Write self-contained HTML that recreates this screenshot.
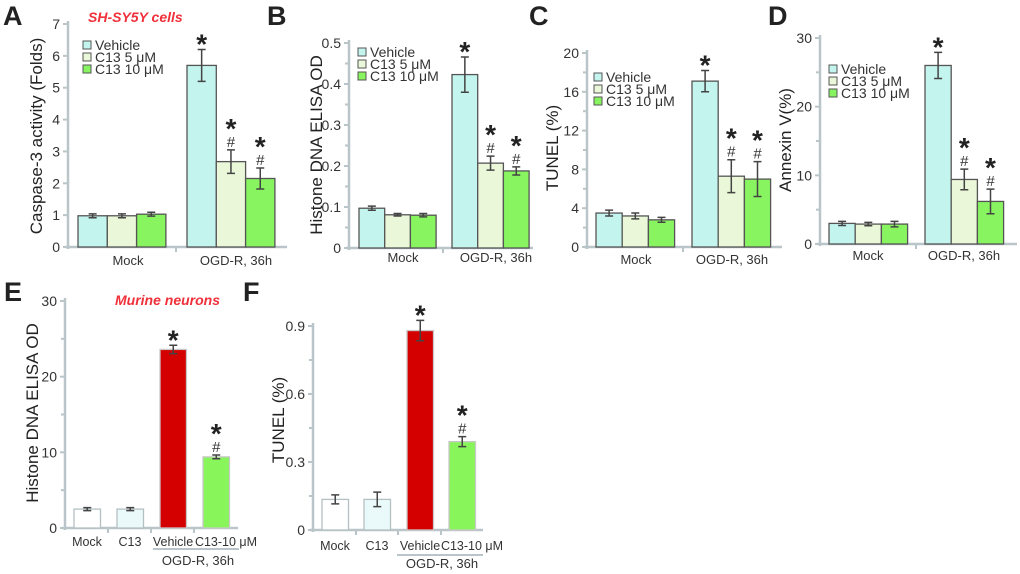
<!DOCTYPE html>
<html><head><meta charset="utf-8"><style>
html,body{margin:0;padding:0;background:#fff;}
svg{display:block;font-family:"Liberation Sans",Arial,sans-serif;}
</style></head><body>
<svg id="fig" width="1020" height="574" viewBox="0 0 1020 574" xmlns="http://www.w3.org/2000/svg"></svg>
<script>
// Panel A data
const aCategories = ["Mock", "OGD-R, 36h"];
const aVehicle = [0.98, 5.7];
const aC13_5 = [0.98, 2.68];
const aC13_10 = [1.03, 2.15];
const aErrVehicle = [0.06, 0.5];
const aErrC13_5 = [0.06, 0.37];
const aErrC13_10 = [0.06, 0.33];
const aTicks = ["0","1","2","3","4","5","6","7"];
// Panel B data
const bVehicle = [0.097, 0.423];
const bC13_5 = [0.081, 0.207];
const bC13_10 = [0.08, 0.188];
const bErrVehicle = [0.005, 0.043];
const bErrC13_5 = [0.003, 0.017];
const bErrC13_10 = [0.004, 0.01];
const bTicks = ["0","0.1","0.2","0.3","0.4","0.5"];
// Panel C data
const cVehicle = [3.5, 17.1];
const cC13_5 = [3.2, 7.3];
const cC13_10 = [2.8, 7.0];
const cErrVehicle = [0.3, 1.1];
const cErrC13_5 = [0.3, 1.7];
const cErrC13_10 = [0.25, 1.8];
const cTicks = ["0","4","8","12","16","20"];
// Panel D data
const dVehicle = [3.0, 26];
const dC13_5 = [2.9, 9.4];
const dC13_10 = [2.9, 6.2];
const dErrVehicle = [0.3, 1.9];
const dErrC13_5 = [0.25, 1.5];
const dErrC13_10 = [0.4, 1.8];
const dTicks = ["0","10","20","30"];
// Panel E data
const eCategories = ["Mock", "C13", "Vehicle", "C13-10 μM"];
const eValues = [2.5, 2.5, 23.6, 9.4];
const eErrors = [0.2, 0.2, 0.55, 0.25];
const eTicks = ["0","10","20","30"];
// Panel F data
const fValues = [0.135, 0.135, 0.88, 0.39];
const fErrors = [0.02, 0.032, 0.045, 0.022];
const fTicks = ["0","0.3","0.6","0.9"];

const svg = document.getElementById('fig');
const NS = "http://www.w3.org/2000/svg";
function mk(tag, attrs, parent) {
  const e = document.createElementNS(NS, tag);
  for (const k in attrs) e.setAttribute(k, attrs[k]);
  (parent || svg).appendChild(e);
  return e;
}
function txt(s, attrs, parent) { const t = mk('text', attrs, parent); t.textContent = s; return t; }

const AX = "#b9c5c9";
const BORDER = "#555";
const COLS = ["#c3f5ee", "#eaf7d8", "#88f560"];
const LEG = ["Vehicle", "C13 5 μM", "C13 10 μM"];

function panel(p) {
  const g = mk('g', {});
  
  
  const ymax = parseFloat(p.ticks[p.ticks.length - 1]);
  const yS = v => p.y0 - (v / ymax) * (p.y0 - p.yTop);
  const L = txt(p.letter, {x: p.lx, y: p.ly, 'font-size': 27, 'font-weight': 'bold', fill: '#222'}, g);
  
  
  const ya = mk('line', {x1: p.ax, y1: p.yTop - 3, x2: p.ax, y2: p.y0 + 2, stroke: AX, 'stroke-width': 2.5}, g);
  
  
  const xa = mk('line', {x1: p.ax - 3, y1: p.y0, x2: p.xEnd, y2: p.y0, stroke: AX, 'stroke-width': 2.5}, g);
  
  
  p.ticks.forEach((t, i) => {
    const v = parseFloat(t); const y = yS(v);
    mk('line', {x1: p.ax - 5, y1: y, x2: p.ax, y2: y, stroke: AX, 'stroke-width': 2}, g);
    const tl = txt(t, {x: p.ax - 8, y: y + 5, 'text-anchor': 'end', 'font-size': 14, fill: '#333'}, g);
    
    
    if (p.minor && i < p.ticks.length - 1) {
      const vm = (v + parseFloat(p.ticks[i + 1])) / 2;
      mk('line', {x1: p.ax - 4, y1: yS(vm), x2: p.ax, y2: yS(vm), stroke: AX, 'stroke-width': 2}, g);
    }
  });
  (p.xTicks || []).forEach(x => mk('line', {x1: x, y1: p.y0, x2: x, y2: p.y0 + 5, stroke: AX, 'stroke-width': 2}, g));
  const yt = txt(p.ytitle, {x: 0, y: 0, 'text-anchor': 'middle', 'font-size': 17, fill: '#222', transform: `translate(${p.ytx},${p.yty}) rotate(-90)`}, g);
  
  
  p.bars.forEach(b => {
    const y = yS(b.v);
    const r = mk('rect', {x: b.x, y: y, width: p.bw, height: p.y0 - y, fill: b.fill, stroke: b.stroke, 'stroke-width': 1.3}, g);
    
    
    const cx = b.x + p.bw / 2;
    const yt1 = yS(b.v + b.e), yb1 = yS(b.v - b.e);
    const eb = mk('path', {d: `M${cx},${yt1}V${yb1}M${cx - 4},${yt1}H${cx + 4}M${cx - 4},${yb1}H${cx + 4}`, stroke: '#444', 'stroke-width': 1.5, fill: 'none'}, g);
    
    
    let starBase = yt1 + 4;
    if (b.hash) {
      const h = txt('#', {x: cx, y: yt1 - 3, 'text-anchor': 'middle', 'font-size': 15, fill: '#333'}, g);
      
      
      starBase = yt1 - 12;
    }
    if (b.star) {
      const s = txt('*', {x: cx, y: starBase, 'text-anchor': 'middle', 'font-size': 28, 'font-weight': 'bold', fill: '#222'}, g);
      
      
    }
  });
  p.cats.forEach(c => {
    const t = txt(c.t, {x: c.x, y: c.y, 'text-anchor': 'middle', 'font-size': c.fs || 13, fill: '#333'}, g);
    
    
  });
  if (p.legend) {
    LEG.forEach((l, i) => {
      const y = p.legend[1] + i * 12;
      const sw = mk('rect', {x: p.legend[0], y: y - 4, width: 8, height: 8, fill: COLS[i], stroke: BORDER, 'stroke-width': 1}, g);
      
      
      const lt = txt(l, {x: p.legend[0] + 12, y: y + 5, 'font-size': 14, fill: '#333'}, g);
      
      
    });
  }
  return g;
}

function groupBars(xs, bw, vals, errs) {
  const out = [];
  for (let gi = 0; gi < 2; gi++) for (let s = 0; s < 3; s++) {
    out.push({x: xs[gi] + s * bw, v: vals[s][gi], e: errs[s][gi], fill: COLS[s], stroke: BORDER,
      name: 'bar-' + ['vehicle', 'c13-5', 'c13-10'][s] + '-' + (gi ? 'ogd' : 'mock'),
      star: gi === 1, hash: gi === 1 && s > 0});
  }
  return out;
}

panel({name: 'panel-a', letter: 'A', lx: 3, ly: 25, ax: 68, y0: 247, yTop: 24, xEnd: 287, ticks: aTicks, minor: false,
  xTicks: [176], ytitle: 'Caspase-3 activity (Folds)', ytx: 42, yty: 136, bw: 29.3,
  bars: groupBars([78, 187], 29.3, [aVehicle, aC13_5, aC13_10], [aErrVehicle, aErrC13_5, aErrC13_10]),
  cats: [{t: aCategories[0], x: 128, y: 265}, {t: aCategories[1], x: 236, y: 265}], legend: [83, 45]});
panel({name: 'panel-b', letter: 'B', lx: 267, ly: 25, ax: 349, y0: 248, yTop: 43, xEnd: 533, ticks: bTicks, minor: true,
  xTicks: [443], ytitle: 'Histone DNA ELISA OD', ytx: 322, yty: 145, bw: 25.7,
  bars: groupBars([359, 452], 25.7, [bVehicle, bC13_5, bC13_10], [bErrVehicle, bErrC13_5, bErrC13_10]),
  cats: [{t: 'Mock', x: 403, y: 262}, {t: 'OGD-R, 36h', x: 496, y: 262}], legend: [358, 52]});
panel({name: 'panel-c', letter: 'C', lx: 529, ly: 25, ax: 587, y0: 247, yTop: 53, xEnd: 782, ticks: cTicks, minor: true,
  xTicks: [683], ytitle: 'TUNEL (%)', ytx: 558, yty: 148, bw: 26.2,
  bars: groupBars([596, 692], 26.2, [cVehicle, cC13_5, cC13_10], [cErrVehicle, cErrC13_5, cErrC13_10]),
  cats: [{t: 'Mock', x: 636, y: 264}, {t: 'OGD-R, 36h', x: 732, y: 264}], legend: [594, 77]});
panel({name: 'panel-d', letter: 'D', lx: 768, ly: 25, ax: 820, y0: 244, yTop: 38, xEnd: 1017, ticks: dTicks, minor: true,
  xTicks: [916], ytitle: 'Annexin V(%)', ytx: 791, yty: 140, bw: 26.2,
  bars: groupBars([829, 925], 26.2, [dVehicle, dC13_5, dC13_10], [dErrVehicle, dErrC13_5, dErrC13_10]),
  cats: [{t: 'Mock', x: 868, y: 260}, {t: 'OGD-R, 36h', x: 964, y: 260}], legend: [829, 69]});

const eCols = ["#ffffff", "#eafafa", "#d40000", "#88f55a"];
const eStroke = ["#b5c0c3", "#b5c0c3", "#c8c8c8", "#c8c8c8"];
const eX = [74, 117, 160, 203];
const fX = [322, 364, 407, 449];
const labelShift = [0, 0, 0, 10];
function singleBars(xs, vals, errs) {
  return vals.map((v, i) => ({x: xs[i], v: v, e: errs[i], fill: eCols[i], stroke: eStroke[i],
    name: 'bar-' + eCategories[i].toLowerCase().replace(/[^a-z0-9]+/g, '-'), star: i >= 2, hash: i === 3}));
}
panel({name: 'panel-e', letter: 'E', lx: 4, ly: 301, ax: 65, y0: 528, yTop: 301, xEnd: 238, ticks: eTicks, minor: true,
  xTicks: [108, 151, 194], ytitle: 'Histone DNA ELISA OD', ytx: 38, yty: 413, bw: 26.5,
  bars: singleBars(eX, eValues, eErrors),
  cats: eCategories.map((c, i) => ({t: c, x: eX[i] + 13 + labelShift[i], y: 546, fs: 12.5})).concat([{t: 'OGD-R, 36h', x: 198, y: 565}])});
panel({name: 'panel-f', letter: 'F', lx: 243, ly: 301, ax: 313, y0: 530, yTop: 326, xEnd: 483, ticks: fTicks, minor: true,
  xTicks: [356, 398, 441], ytitle: 'TUNEL (%)', ytx: 284, yty: 420, bw: 26.5,
  bars: singleBars(fX, fValues, fErrors),
  cats: eCategories.map((c, i) => ({t: c, x: fX[i] + 13 + labelShift[i], y: 550, fs: 12.5})).concat([{t: 'OGD-R, 36h', x: 442, y: 568}])});

let u1 = mk('line', {x1: 153, y1: 549, x2: 239, y2: 549, stroke: AX, 'stroke-width': 2});


let u2 = mk('line', {x1: 397, y1: 555, x2: 483, y2: 555, stroke: AX, 'stroke-width': 2});



let t1 = txt('SH-SY5Y cells', {x: 88, y: 22, 'font-size': 14, 'font-weight': 'bold', 'font-style': 'italic', fill: '#f0303a'});


let t2 = txt('Murine neurons', {x: 115, y: 305, 'font-size': 14, 'font-weight': 'bold', 'font-style': 'italic', fill: '#f0303a'});


</script>
</body></html>
